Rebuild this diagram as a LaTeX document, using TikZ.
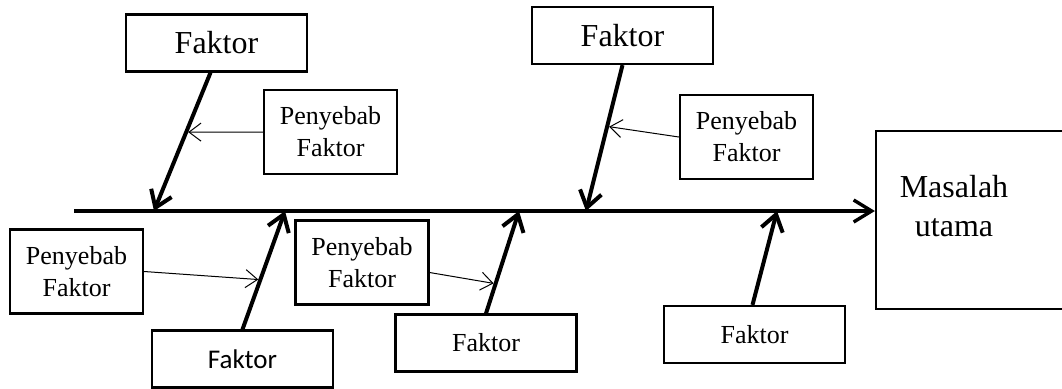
\documentclass[tikz,border=0pt]{standalone}
\usepackage{fontspec}
\setmainfont{Liberation Serif}
\newfontfamily\calibrifont{Carlito}
\usetikzlibrary{arrows.meta}

\begin{document}
\begin{tikzpicture}[x=0.5pt, y=-0.5pt,
  faktor/.style = {draw, line width=1.1pt, minimum width=90.5pt,
    minimum height=28.5pt, inner sep=0pt},
  penyebab/.style = {draw, line width=1.1pt, minimum width=66.5pt,
    minimum height=42pt, inner sep=0pt, align=center,
    font=\fontsize{13}{16}\selectfont},
  bone/.style = {line width=2pt, -{Straight Barb[length=8pt,width=11pt]}},
  twig/.style = {line width=0.5pt, shorten >=1pt,
    -{Straight Barb[length=6pt,width=9pt]}},
  spine/.style = {line width=1.7pt, -{Straight Barb[length=9pt,width=11pt]}}]
  \useasboundingbox (0,0) rectangle (1062,388);
  % kepala ikan
  \node[draw, line width=1.1pt, minimum width=97pt, minimum height=89pt] (masalah) at (973,220) {};
  \node[align=center, font=\fontsize{16}{19.5}\selectfont] (judul) at (954,206) {Masalah\\utama};
  \coordinate (ekor) at (74,211);
  \draw[spine] (ekor) -- (ekor -| masalah.west);
  % faktor
  \node[faktor, font=\fontsize{16}{19}\selectfont] (f1) at (216.5,43) {Faktor};
  \node[faktor, font=\fontsize{16}{19}\selectfont] (f2) at (622.5,35.5) {Faktor};
  \node[faktor, font=\calibrifont\fontsize{13.5}{16}\selectfont] (f3) at (242.5,359) {Faktor};
  \node[faktor, font=\fontsize{13}{16}\selectfont] (f4) at (486,343) {Faktor};
  \node[faktor, font=\fontsize{13}{16}\selectfont] (f5) at (754.5,334.5) {Faktor};
  \coordinate (s1) at (154,211);
  \coordinate (s2) at (586,211);
  \coordinate (s3) at (285,211);
  \coordinate (s4) at (519,211);
  \coordinate (s5) at (777,211);
  \draw[bone] ([xshift=-3pt]f1.south) -- coordinate[pos=0.43] (k1) (s1);
  \draw[bone] (f2.south) -- coordinate[pos=0.42] (k2) (s2);
  \draw[bone] (f3.north) -- coordinate[pos=0.42] (k3) (s3);
  \draw[bone] (f4.north) -- coordinate[pos=0.29] (k4) (s4);
  \draw[bone] ([xshift=-1pt]f5.north) -- (s5);
  % penyebab faktor
  \node[penyebab] (p1) at (330.5,132) {Penyebab\\Faktor};
  \node[penyebab] (p2) at (746.5,137) {Penyebab\\Faktor};
  \node[penyebab] (p3) at (76.5,271.5) {Penyebab\\Faktor};
  \node[penyebab] (p4) at (362,262.5) {Penyebab\\Faktor};
  \draw[twig] (p1.west) -- (k1);
  \draw[twig] (p2.west) -- (k2);
  \draw[twig] (p3.east) -- (k3);
  \draw[twig] ([yshift=-5pt]p4.east) -- (k4);
\end{tikzpicture}
\end{document}
